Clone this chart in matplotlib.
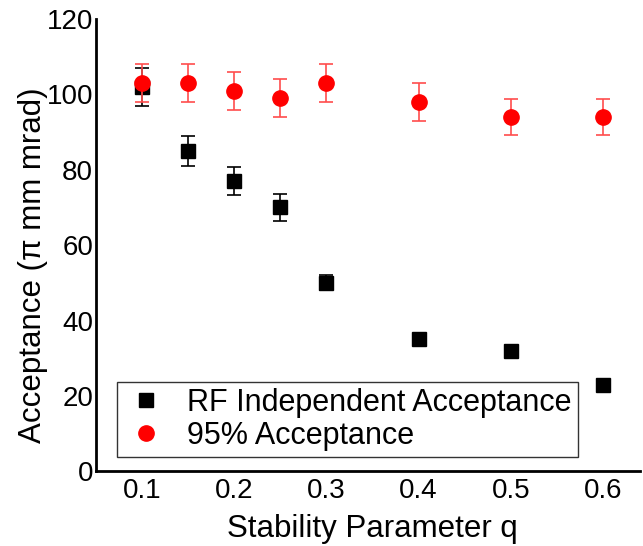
import matplotlib
matplotlib.use("Agg")
import matplotlib.pyplot as plt

q = [0.1, 0.15, 0.2, 0.25, 0.3, 0.4, 0.5, 0.6]
rf_acc = [102, 85, 77, 70, 50, 35, 32, 23]
rf_err = [5, 4, 3.8, 3.6, 2, 0, 0, 0]
acc95 = [103, 103, 101, 99, 103, 98, 94, 94]
acc95_err = [5, 5, 5, 5, 5, 5, 4.7, 4.7]
xticks = [0.1, 0.2, 0.3, 0.4, 0.5, 0.6]
yticks = [0, 20, 40, 60, 80, 100, 120]

plt.rcParams['font.family'] = ['Liberation Sans', 'DejaVu Sans']
fig = plt.figure(figsize=(6.43, 5.46), dpi=100)
ax = fig.add_axes([0.149, 0.137, 0.846, 0.828])

ax.errorbar(q, rf_acc, yerr=rf_err, fmt='s', color='black', ms=9.5,
            ecolor='black', elinewidth=1.2, capsize=5, capthick=1.2,
            label='RF Independent Acceptance', zorder=3)
ax.errorbar(q, acc95, yerr=acc95_err, fmt='o', color='red', ms=11,
            ecolor=(1, 0.3, 0.3), elinewidth=1.2, capsize=5, capthick=1.2,
            label='95% Acceptance', zorder=4)

ax.set_xlim(0.05, 0.64)
ax.set_ylim(0, 120)
ax.set_xticks(xticks)
ax.set_xticklabels([f"{t:.1f}" for t in xticks])
ax.set_yticks(yticks)
ax.tick_params(axis='x', length=0, labelsize=20, pad=5)
ax.tick_params(axis='y', length=0, labelsize=20, pad=2)
for s in ['top', 'right']:
    ax.spines[s].set_visible(False)
for s in ['left', 'bottom']:
    ax.spines[s].set_linewidth(2)
    ax.spines[s].set_color('black')

ax.set_xlabel('Stability Parameter q', fontsize=22.5)
ax.set_ylabel('Acceptance (π mm mrad)', fontsize=22.5)
ax.xaxis.set_label_coords(0.509, -0.094)
ax.yaxis.set_label_coords(-0.088, 0.456)

h, l = ax.get_legend_handles_labels()
h = [hh[0] for hh in h]
leg = ax.legend(h, l, loc='lower left', bbox_to_anchor=(0.039, 0.031),
                borderaxespad=0, fontsize=22, frameon=True, fancybox=False,
                handletextpad=0.6, borderpad=0.2, labelspacing=0.1,
                handlelength=1.5)
leg.get_frame().set_edgecolor('black')
leg.get_frame().set_linewidth(1)

fig.savefig('out.png', dpi=100)
